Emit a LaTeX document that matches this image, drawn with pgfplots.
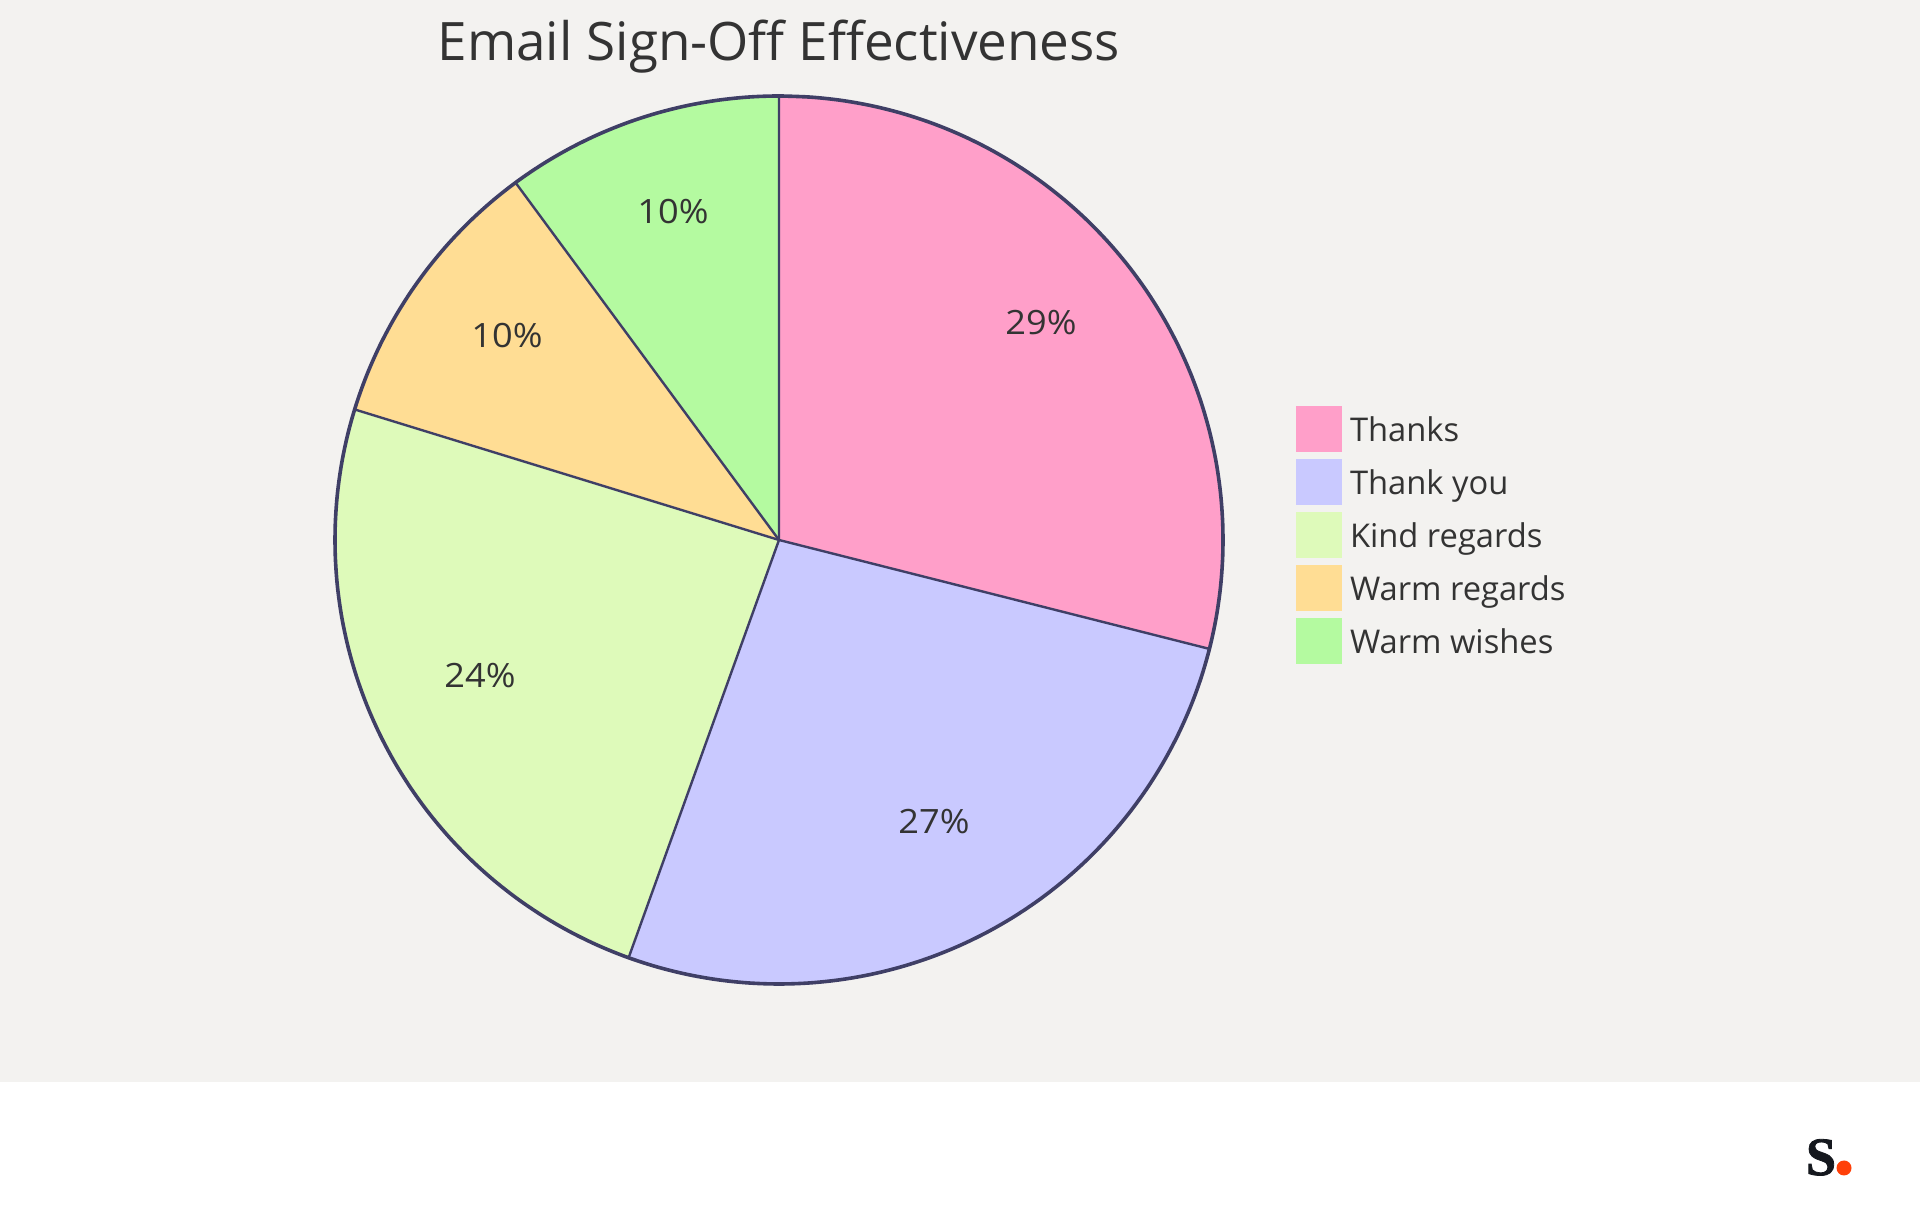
\documentclass[border=0pt]{standalone}
\usepackage{fontspec}
\setmainfont{Open Sans}
\newfontfamily\logofont{Liberation Serif}[FakeBold=1.5]
\newfontfamily\labfont{Open Sans}[FakeStretch=1.08]
\usepackage{pgfplots}
\pgfplotsset{compat=1.18}
\definecolor{bg}{HTML}{F3F2F0}
\definecolor{txt}{HTML}{333333}
\definecolor{edge}{HTML}{3F3F66}
\definecolor{c1}{HTML}{FF9FC9}
\definecolor{c2}{HTML}{C9C9FF}
\definecolor{c3}{HTML}{DEFABA}
\definecolor{c4}{HTML}{FFDD94}
\definecolor{c5}{HTML}{B4FAA0}
\begin{document}
\begin{tikzpicture}
\begin{axis}[
  x=1pt,y=1pt,scale only axis,hide axis,clip=false,
  xmin=-779,xmax=1141,ymin=-675,ymax=540,
  legend style={at={(axis cs:517,133.5)},anchor=north west,draw=none,fill=none,
    inner sep=0pt,outer sep=0pt,font=\fontsize{32.7}{32.7}\selectfont\color{txt},
    /tikz/every even column/.style={column sep=0pt},
    /tikz/row sep=7pt,
    nodes={inner sep=0pt,outer sep=0pt,minimum height=46pt,anchor=west,text depth=0pt}},
  legend cell align=left,
  legend image code/.code={\fill[#1] (0pt,-23pt) rectangle (46pt,23pt);},
]
\addplot[forget plot,fill=white,draw=none] coordinates {(-779,540)(1141,540)(1141,-675)(-779,-675)};
\addplot[forget plot,fill=bg,draw=none] coordinates {(-779,540)(1141,540)(1141,-542)(-779,-542)};
\addplot[fill=c1,draw=none,data cs=polar] coordinates {(0,0)(90,444)(86,444)(82,444)(78,444)(74,444)(70,444)(66,444)(62,444)(58,444)(54,444)(50,444)(46,444)(42,444)(38,444)(34,444)(30,444)(26,444)(22,444)(18,444)(14,444)(10,444)(6,444)(2,444)(-2,444)(-6,444)(-10,444)(-14,444)(-14.2,444)};
\addplot[fill=c2,draw=none,data cs=polar] coordinates {(0,0)(-14.2,444)(-18,444)(-22,444)(-26,444)(-30,444)(-34,444)(-38,444)(-42,444)(-46,444)(-50,444)(-54,444)(-58,444)(-62,444)(-66,444)(-70,444)(-74,444)(-78,444)(-82,444)(-86,444)(-90,444)(-94,444)(-98,444)(-102,444)(-106,444)(-109.8,444)};
\addplot[fill=c3,draw=none,data cs=polar] coordinates {(0,0)(-109.8,444)(-110,444)(-114,444)(-118,444)(-122,444)(-126,444)(-130,444)(-134,444)(-138,444)(-142,444)(-146,444)(-150,444)(-154,444)(-158,444)(-162,444)(-166,444)(-170,444)(-174,444)(-178,444)(-182,444)(-186,444)(-190,444)(-194,444)(-197.1,444)};
\addplot[fill=c4,draw=none,data cs=polar] coordinates {(0,0)(-197.1,444)(-198,444)(-202,444)(-206,444)(-210,444)(-214,444)(-218,444)(-222,444)(-226,444)(-230,444)(-233.6,444)};
\addplot[fill=c5,draw=none,data cs=polar] coordinates {(0,0)(-233.6,444)(-234,444)(-238,444)(-242,444)(-246,444)(-250,444)(-254,444)(-258,444)(-262,444)(-266,444)(-270,444)};
\addplot[forget plot,draw=edge,line width=2.4pt,data cs=polar] coordinates {(90,444)(0,0)(-14.2,444)};
\addplot[forget plot,draw=edge,line width=2.4pt,data cs=polar] coordinates {(-109.8,444)(0,0)(-197.1,444)};
\addplot[forget plot,draw=edge,line width=2.4pt,data cs=polar] coordinates {(-233.6,444)(0,0)};
\addplot[forget plot,draw=edge,line width=3.6pt,smooth,tension=0.55,line join=round,data cs=polar] coordinates {(90,444)(86,444)(82,444)(78,444)(74,444)(70,444)(66,444)(62,444)(58,444)(54,444)(50,444)(46,444)(42,444)(38,444)(34,444)(30,444)(26,444)(22,444)(18,444)(14,444)(10,444)(6,444)(2,444)(-2,444)(-6,444)(-10,444)(-14,444)(-18,444)(-22,444)(-26,444)(-30,444)(-34,444)(-38,444)(-42,444)(-46,444)(-50,444)(-54,444)(-58,444)(-62,444)(-66,444)(-70,444)(-74,444)(-78,444)(-82,444)(-86,444)(-90,444)(-94,444)(-98,444)(-102,444)(-106,444)(-110,444)(-114,444)(-118,444)(-122,444)(-126,444)(-130,444)(-134,444)(-138,444)(-142,444)(-146,444)(-150,444)(-154,444)(-158,444)(-162,444)(-166,444)(-170,444)(-174,444)(-178,444)(-182,444)(-186,444)(-190,444)(-194,444)(-198,444)(-202,444)(-206,444)(-210,444)(-214,444)(-218,444)(-222,444)(-226,444)(-230,444)(-234,444)(-238,444)(-242,444)(-246,444)(-250,444)(-254,444)(-258,444)(-262,444)(-266,444)(-270,444)(-274,444)};
\legend{\hspace{8pt}Thanks,\hspace{8pt}Thank you,\hspace{8pt}Kind regards,\hspace{8pt}Warm regards,\hspace{8pt}Warm wishes}
\node[text=txt,font=\fontsize{53}{53}\selectfont] at (axis cs:0,493) {Email Sign-Off Effectiveness};
\node[text=txt,font=\labfont\fontsize{33.5}{33.5}\selectfont] at (axis cs:262,217) {29\%};
\node[text=txt,font=\labfont\fontsize{33.5}{33.5}\selectfont] at (axis cs:155,-282) {27\%};
\node[text=txt,font=\labfont\fontsize{33.5}{33.5}\selectfont] at (axis cs:-299,-136) {24\%};
\node[text=txt,font=\labfont\fontsize{33.5}{33.5}\selectfont] at (axis cs:-272,204) {10\%};
\node[text=txt,font=\labfont\fontsize{33.5}{33.5}\selectfont] at (axis cs:-106,328) {10\%};
\node[text={rgb,255:red,21;green,24;blue,30},font=\logofont\bfseries\fontsize{54}{54}\selectfont,inner sep=0pt,anchor=base] at (axis cs:1042,-635) {S};
\fill[fill={rgb,255:red,255;green,64;blue,8}] (axis cs:1065,-628) circle[radius=7.5pt];
\end{axis}
\end{tikzpicture}
\end{document}
